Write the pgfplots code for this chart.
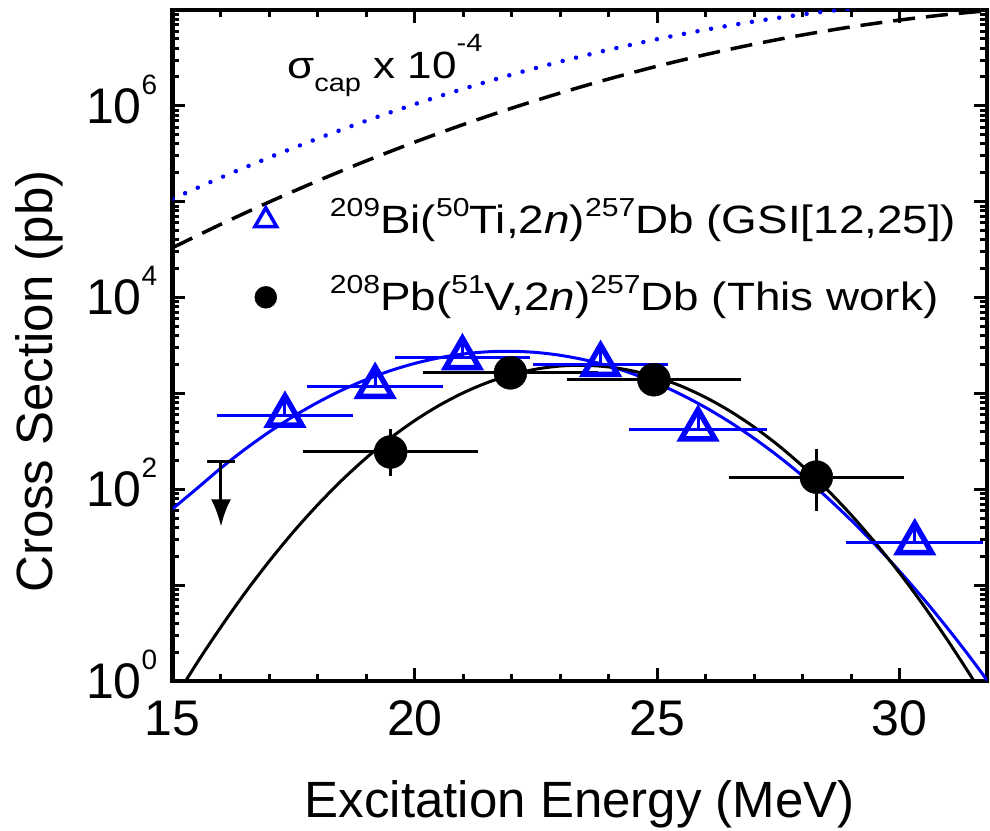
\documentclass[border=0pt]{standalone}
\usepackage{fontspec}
\setmainfont{Liberation Sans}
\newfontfamily\legfont[FakeStretch=1.16]{Liberation Sans}
\usepackage{pgfplots}
\pgfplotsset{compat=1.18}
\usetikzlibrary{arrows.meta}
\newcommand{\ylab}[1]{10\smash{\raisebox{29bp}{\fontsize{28bp}{28bp}\selectfont #1}}}
\newcommand{\sps}[1]{\raisebox{17bp}{\fontsize{26bp}{26bp}\selectfont #1}}
\begin{document}
\begin{tikzpicture}
\useasboundingbox (0,0) rectangle (990bp,831bp);
\begin{axis}[
  at={(172.5bp,150bp)}, anchor=south west,
  scale only axis, width=814.5bp, height=671bp,
  xmin=15, xmax=31.8, ymode=log, ymin=1, ymax=1e7,
  xtick={15,20,25,30}, minor x tick num=4,
  ytickten={0,...,7},
  yticklabels={\ylab{0},,\ylab{2},,\ylab{4},,\ylab{6},},
  /pgf/number format/assume math mode=true,
  tick align=inside, xtick pos=both, ytick pos=both,
  xticklabel pos=lower, yticklabel pos=left,
  axis line style={line width=4bp},
  major tick length=13bp, minor tick length=7bp,
  tick style={line width=3bp, black},
  ticklabel style={font=\fontsize{50bp}{50bp}\selectfont},
  xticklabel style={anchor=base, yshift=-54bp},
  yticklabel style={anchor=east, inner sep=0pt, xshift=-15bp},
  xlabel={Excitation Energy (MeV)},
  ylabel={Cross Section (pb)},
  label style={font=\fontsize{51bp}{51bp}\selectfont},
  xlabel style={at={(rel axis cs:0.5,0)}, anchor=base, yshift=-136bp},
  ylabel style={at={(rel axis cs:-0.1479,0.4463)}, anchor=base},
  legend cell align=left,
  legend image code/.code={\draw[#1] plot coordinates {(0bp,0bp)};},
  legend style={at={(rel axis cs:0.1008,0.707)}, anchor=north west, draw=none, fill=none,
    inner sep=0pt, row sep=50bp, column sep=53bp,
    font=\legfont\fontsize{39.5bp}{39.5bp}\selectfont,
    nodes={inner sep=0pt, text height=27bp, text depth=0bp}},
]
% capture cross sections x 1e-4
\addplot[forget plot, blue, line width=4.5bp, line cap=round, dash pattern=on 0.01bp off 13.8bp, smooth] coordinates {
(15,107152)(16,178800)(17,290000)(18,457100)(19,699800)(20,1042000)(21,1507000)(22,2120000)(23,2896000)(24,3847000)(25,4966000)(26,6232000)(27,7598000)(28,9005000)(29,10370000)(29.5,11000000)};
\addplot[forget plot, black, line width=3.5bp, dash pattern=on 22bp off 11bp, smooth] coordinates {
(15,33113)(16,58270)(17,99590)(18,165400)(19,267200)(20,419200)(21,639000)(22,947000)(23,1363000)(24,1908000)(25,2595000)(26,3429000)(27,4404000)(28,5497000)(29,6667000)(30,7859000)(31,9000000)(32,10020000)};
% fits
\addplot[forget plot, blue, line width=3bp, smooth] coordinates {
(15,62.5)(15.5,101.5)(16,166.6)(16.5,262.7)(17,397.9)(17.5,578.7)(18,808.4)(18.5,1085)(19,1398)(19.5,1731)(20,2059)(20.5,2352)(21,2580)(21.5,2719)(22,2752)(22.5,2676)(23,2498)(23.5,2241)(24,1930)(24.5,1597)(25,1269)(25.5,969.2)(26,710.8)(26.5,500.6)(27,338.6)(27.5,220.0)(28,137.3)(28.5,82.3)(29,47.4)(29.5,26.2)(30,13.9)(30.5,7.10)(31,3.48)(31.5,1.64)(32,0.741)};
\addplot[forget plot, black, line width=3bp, smooth] coordinates {
(15,0.6)(15.5,1.53)(16,3.67)(16.5,8.35)(17,17.9)(17.5,36.3)(18,69.3)(18.5,125.2)(19,213.5)(19.5,343.7)(20,522.4)(20.5,749.8)(21,1016)(21.5,1301)(22,1572)(22.5,1793)(23,1932)(23.5,1966)(24,1888)(24.5,1713)(25,1467)(25.5,1187)(26,906)(26.5,653.4)(27,444.8)(27.5,286.0)(28,173.6)(28.5,99.5)(29,53.9)(29.5,27.5)(30,13.3)(30.5,6.05)(31,2.60)(31.5,1.06)(32,0.41)};
% upper limit
\addplot[forget plot, black, line width=3bp, no marks] coordinates {(15.72,196)(16.28,196)};
\addplot[forget plot, black, line width=3bp, no marks, -{Latex[length=27bp,width=20bp]}] coordinates {(16,196)(16,41)};
% this work
\addplot[forget plot, only marks, black, mark=*, mark size=16.5bp,
  error bars/.cd, x dir=both, x explicit, y dir=both, y explicit,
  error mark=none, error bar style={line width=3bp, black}]
  table[x=x, y=y, x error=ex, y error plus=eyp, y error minus=eym] {
x y ex eyp eym
19.50 245 1.8 177 109
21.97 1640 1.8 0 0
24.93 1390 1.8 0 0
28.28 134 1.8 131 75
};
% GSI
\addplot[forget plot, only marks, blue, mark=triangle, mark size=19.5bp, mark options={line width=5.5bp, solid},
  error bars/.cd, x dir=both, x explicit, y dir=plus, y explicit,
  error mark=none, error bar style={line width=3bp, blue}]
  table[x=x, y=y, x error=ex, y error plus=eyp] {
x y ex eyp
17.32 590 1.4 354
19.18 1180 1.4 708
20.98 2350 1.4 1410
23.83 2000 1.4 1200
25.84 424 1.42 254
30.31 27.6 1.41 16.6
};
\addlegendimage{only marks, mark=triangle, mark size=12.5bp, blue, mark options={line width=3.5bp}}
\addlegendentry{\sps{209}Bi(\sps{50}Ti,2\textit{n})\sps{257}Db (GSI[12,25])}
\addlegendimage{only marks, mark=*, mark size=11bp, black}
\addlegendentry{\sps{208}Pb(\sps{51}V,2\textit{n})\sps{257}Db (This work)}
\node[anchor=base west, inner sep=0pt, font=\legfont\fontsize{38bp}{38bp}\selectfont] at (axis cs:17.36,1.95e6)
  {σ\raisebox{-13bp}{\fontsize{25bp}{25bp}\selectfont cap} x 10\raisebox{27bp}{\fontsize{25bp}{25bp}\selectfont -4}};
\end{axis}
\end{tikzpicture}
\end{document}
